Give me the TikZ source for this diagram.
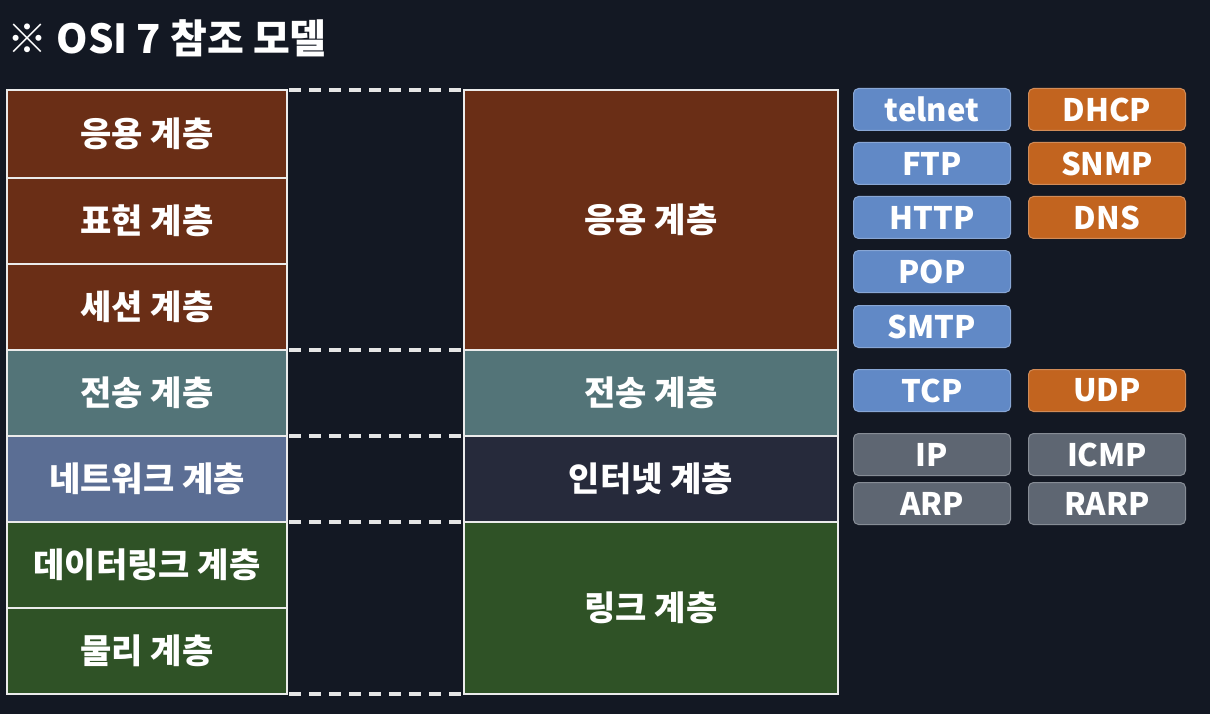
\documentclass[tikz,border=0pt]{standalone}
\usepackage{fontspec}
\setmainfont{Noto Sans CJK KR}
\definecolor{bg}{HTML}{131823}
\definecolor{brownL}{HTML}{6A2E16}
\definecolor{tealL}{HTML}{537478}
\definecolor{netL}{HTML}{5B6E94}
\definecolor{greenL}{HTML}{2F5226}
\definecolor{inetL}{HTML}{262A3B}
\definecolor{tagblue}{HTML}{6189C6}
\definecolor{tagorange}{HTML}{C2641F}
\definecolor{taggrey}{HTML}{5E6672}
\begin{document}
\begin{tikzpicture}[x=1pt,y=-1pt,
  layer/.style={draw=white!92!black, line width=2pt, anchor=north west, inner sep=0pt, outer sep=0pt,
    text=white, font=\bfseries\fontsize{34}{36}\selectfont},
  tagbox/.style={rounded corners=5pt, draw=white!25!#1, line width=1pt, fill=#1, anchor=north west,
    minimum width=157pt, minimum height=42pt, inner sep=0pt, text=white,
    font=\bfseries\fontsize{31}{33}\selectfont},
  dashline/.style={draw=white!90!black, line width=4.5pt, dash pattern=on 12pt off 8pt}]
\useasboundingbox[fill=bg] (0,0) rectangle (1210,714);
\node[anchor=west, text=white, font=\bfseries\fontsize{40}{43}\selectfont] (title) at (4,38) {※ OSI 7 참조 모델};
% left column
\node[layer, fill=brownL, minimum width=280pt, minimum height=88pt] (l1) at (7,90) {응용 계층};
\node[layer, fill=brownL, minimum width=280pt, minimum height=86pt] (l2) at (7,178) {표현 계층};
\node[layer, fill=brownL, minimum width=280pt, minimum height=86pt] (l3) at (7,264) {세션 계층};
\node[layer, fill=tealL, minimum width=280pt, minimum height=86pt] (l4) at (7,350) {전송 계층};
\node[layer, fill=netL, minimum width=280pt, minimum height=86pt] (l5) at (7,436) {네트워크 계층};
\node[layer, fill=greenL, minimum width=280pt, minimum height=86pt] (l6) at (7,522) {데이터링크 계층};
\node[layer, fill=greenL, minimum width=280pt, minimum height=86pt] (l7) at (7,608) {물리 계층};
% right column
\node[layer, fill=brownL, minimum width=374pt, minimum height=260pt] (r1) at (464,90) {응용 계층};
\node[layer, fill=tealL, minimum width=374pt, minimum height=86pt] (r2) at (464,350) {전송 계층};
\node[layer, fill=inetL, minimum width=374pt, minimum height=86pt] (r3) at (464,436) {인터넷 계층};
\node[layer, fill=greenL, minimum width=374pt, minimum height=172pt] (r4) at (464,522) {링크 계층};
% dashed connectors
\draw[dashline] ([xshift=2pt]l1.north east) -- ([xshift=-2pt]l1.north east -| r1.west);
\draw[dashline] ([xshift=2pt]l3.south east) -- ([xshift=-2pt]l3.south east -| r2.west);
\draw[dashline] ([xshift=2pt]l4.south east) -- ([xshift=-2pt]l4.south east -| r3.west);
\draw[dashline] ([xshift=2pt]l5.south east) -- ([xshift=-2pt]l5.south east -| r4.west);
\draw[dashline] ([xshift=2pt]l7.south east) -- ([xshift=-2pt]l7.south east -| r4.west);
% protocol tags
\node[tagbox=tagblue] (telnet) at (853,88) {telnet};
\node[tagbox=tagblue] (ftp) at (853,142) {FTP};
\node[tagbox=tagblue] (http) at (853,196) {HTTP};
\node[tagbox=tagblue] (pop) at (853,250) {POP};
\node[tagbox=tagblue] (smtp) at (853,305) {SMTP};
\node[tagbox=tagorange] (dhcp) at (1028,88) {DHCP};
\node[tagbox=tagorange] (snmp) at (1028,142) {SNMP};
\node[tagbox=tagorange] (dns) at (1028,196) {DNS};
\node[tagbox=tagblue] (tcp) at (853,369) {TCP};
\node[tagbox=tagorange] (udp) at (1028,369) {UDP};
\node[tagbox=taggrey] (ip) at (853,433) {IP};
\node[tagbox=taggrey] (icmp) at (1028,433) {ICMP};
\node[tagbox=taggrey] (arp) at (853,482) {ARP};
\node[tagbox=taggrey] (rarp) at (1028,482) {RARP};
\end{tikzpicture}
\end{document}
